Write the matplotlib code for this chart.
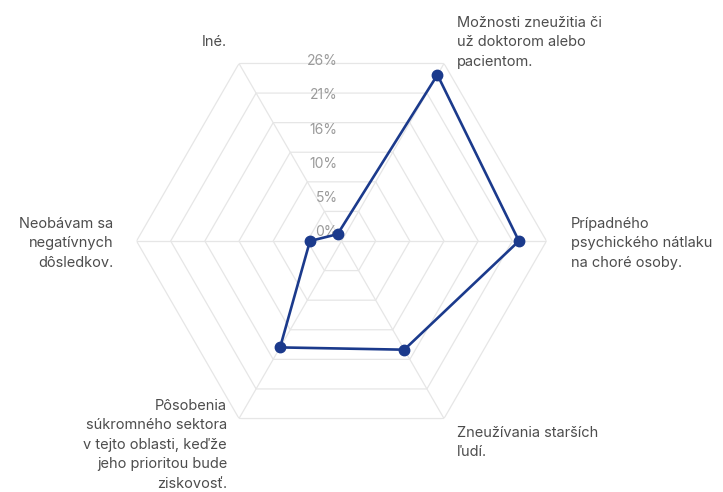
import numpy as np
import matplotlib
matplotlib.use("Agg")
import matplotlib.pyplot as plt

plt.rcParams['font.family'] = ['Inter', 'DejaVu Sans']

# answers, clockwise from the top right spoke
labels = [
    "Možnosti zneužitia či\nuž doktorom alebo\npacientom.",
    "Prípadného\npsychického nátlaku\nna choré osoby.",
    "Zneužívania starších\nľudí.",
    "Pôsobenia\nsúkromného sektora\nv tejto oblasti, keďže\njeho prioritou bude\nziskovosť.",
    "Neobávam sa\nnegatívnych\ndôsledkov.",
    "Iné.",
]
angles_deg = [60, 0, -60, -120, 180, 120]
shares = [29.2, 27.0, 19.1, 18.7, 4.8, 1.2]  # % of respondents

tick_values = [0, 5.2, 10.4, 15.6, 20.8, 26.0]
tick_labels = ["0%", "5%", "10%", "16%", "21%", "26%"]
r_max = 31.2

# (dx, dy, ha) in pixels from the outer vertex of each spoke
label_offsets = [
    (13, 21, "left"),
    (24, -2, "left"),
    (13, -24, "left"),
    (-12, -26, "right"),
    (-23, -2, "right"),
    (-12, 21, "right"),
]

grid_col = "#e6e6e6"
line_col = "#1b3a8c"
text_col = "#4d4d4d"
tick_col = "#9a9a9a"

fig = plt.figure(figsize=(7.23, 4.92), dpi=100)
ax = fig.add_axes([0.1888, 0.0935, 0.5671, 0.8333], projection="polar")
ax.set_ylim(0, r_max)
ax.grid(False)
ax.spines["polar"].set_visible(False)
ax.set_xticks([])
ax.set_yticks([])
ax.patch.set_alpha(0)

theta = np.deg2rad(angles_deg)
closed = np.append(theta, theta[0])

# hexagonal rings and spokes
rings = tick_values[1:] + [r_max]
for r in rings:
    ax.plot(closed, [r] * len(closed), color=grid_col, lw=0.9, zorder=1)
for t in theta:
    ax.plot([t, t], [0, r_max], color=grid_col, lw=0.9, zorder=1)

# data polygon
vals = np.append(shares, shares[0])
ax.plot(closed, vals, color=line_col, lw=1.9, zorder=3)
ax.plot(theta, shares, "o", color=line_col, ms=7.5, zorder=4)

# radial tick labels along the vertical
for v, s in zip(tick_values, tick_labels):
    ax.annotate(s, xy=(np.pi / 2, v), xytext=(-4, 9), textcoords="offset pixels",
                ha="right", va="center", fontsize=10, color=tick_col, zorder=2)

for t, lab, (dx, dy, ha) in zip(theta, labels, label_offsets):
    ax.annotate(lab, xy=(t, r_max), xytext=(dx, dy), textcoords="offset pixels",
                ha=ha, va="center", multialignment=ha, fontsize=10.5,
                color=text_col, linespacing=1.5, annotation_clip=False)

fig.savefig("out.png", dpi=100)
